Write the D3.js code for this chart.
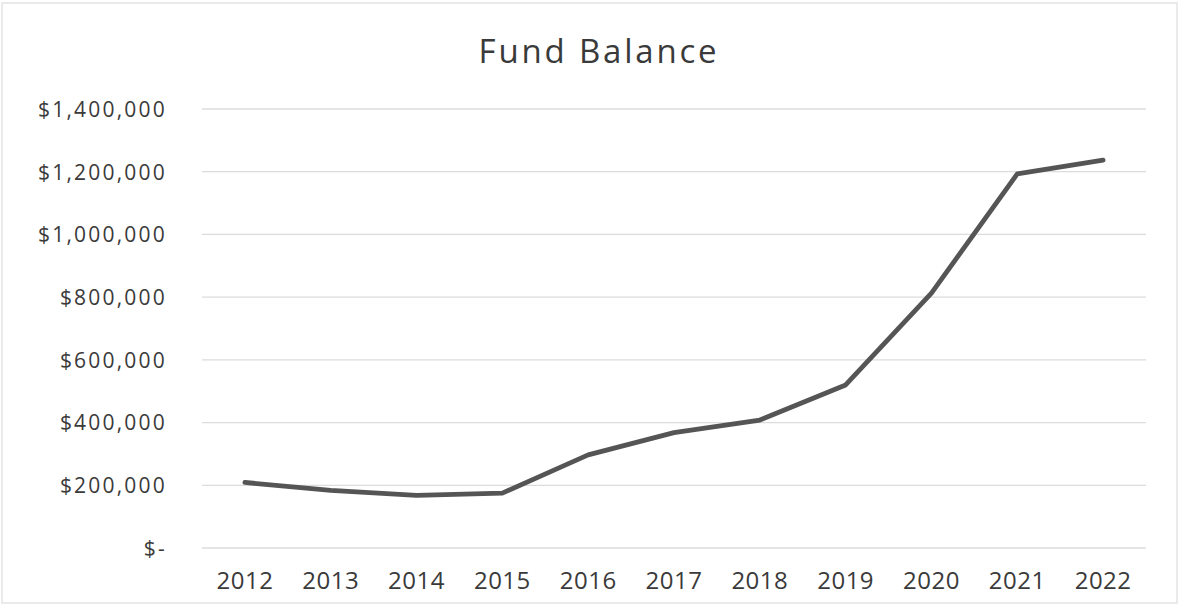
<!DOCTYPE html>
<html><head><meta charset="utf-8">
<script src="https://cdn.jsdelivr.net/npm/d3@7"></script>
<style>
body{margin:0;background:#fff;}
svg{display:block;}
text{font-family:"Open Sans",sans-serif;fill:#3a3a3a;}
</style></head>
<body>
<svg id="c" width="1179" height="616"></svg>
<script>
const years = ["2012","2013","2014","2015","2016","2017","2018","2019","2020","2021","2022"];
const balances = [209000,184000,168000,175000,297000,368000,408000,520000,813000,1193000,1237000];
const yTicks = [0,200000,400000,600000,800000,1000000,1200000,1400000];
const title = "Fund Balance";

const svg = d3.select("#c");
const W=1179,H=616;
const m={left:202,right:33,top:109,bottom:68};
const x = d3.scaleBand().domain(years).range([m.left,W-m.right]);
const y = d3.scaleLinear().domain([0,1400000]).range([H-m.bottom,m.top]);

// faint scan border
svg.append("rect").attr("x",2).attr("y",3).attr("width",W-4).attr("height",600)
  .attr("fill","none").attr("stroke","#e4e4e4").attr("stroke-width",1.5);

const fmt = v => v===0 ? "$-" : "$"+d3.format(",")(v);

// gridlines
svg.append("g").selectAll("line").data(yTicks).join("line")
  .attr("x1",m.left).attr("x2",W-m.right)
  .attr("y1",d=>y(d)).attr("y2",d=>y(d))
  .attr("stroke","#dcdcdc").attr("stroke-width",1.3);

// y axis labels
const yAxis = d3.axisLeft(y).tickValues(yTicks).tickFormat(fmt).tickSize(0).tickPadding(0);
const gy = svg.append("g").attr("transform",`translate(${m.left-35},0)`).call(yAxis);
gy.select(".domain").remove();
gy.selectAll("text").style("font-family","'Open Sans',sans-serif").style("font-size","21px")
  .style("letter-spacing","2.2px").attr("fill","#3a3a3a").attr("dy","0.35em");

// x axis labels
const xAxis = d3.axisBottom(x).tickSize(0).tickPadding(0);
const gx = svg.append("g").attr("transform",`translate(0,${H-m.bottom+24})`).call(xAxis);
gx.select(".domain").remove();
gx.selectAll("text").style("font-family","'Open Sans',sans-serif").style("font-size","24px")
  .style("letter-spacing","0.5px").attr("fill","#3a3a3a");

// line
const line = d3.line().x((d,i)=>x(years[i])+x.bandwidth()/2).y(d=>y(d));
svg.append("path").datum(balances).attr("d",line)
  .attr("fill","none").attr("stroke","#555555").attr("stroke-width",4.8)
  .attr("stroke-linejoin","round").attr("stroke-linecap","round");

// title
svg.append("text").attr("x",599).attr("y",63).attr("text-anchor","middle")
  .style("font-size","33px").style("letter-spacing","2.8px").attr("fill","#2a2a2a").text(title);
</script>
</body></html>
